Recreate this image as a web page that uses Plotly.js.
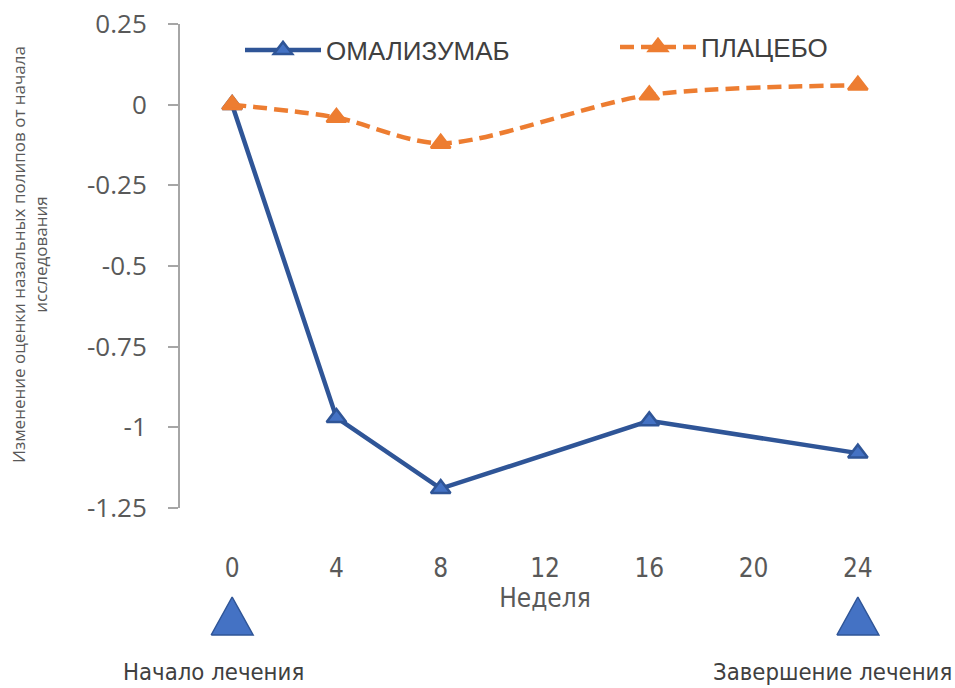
<!DOCTYPE html>
<html>
<head>
<meta charset="utf-8">
<script src="https://cdn.plot.ly/plotly-3.0.1.min.js"></script>
<style>html,body{margin:0;padding:0;background:#fff;}#chart{width:955px;height:688px;}</style>
</head>
<body>
<div id="chart"></div>
<script>
// ---- data ----
const weeks = [0, 4, 8, 16, 24];
const omalizumab = [0, -0.97, -1.19, -0.98, -1.08];
const placebo = [0, -0.04, -0.12, 0.03, 0.06];
const seriesNames = ['ОМАЛИЗУМАБ', 'ПЛАЦЕБО'];
const xTickVals = [0, 4, 8, 12, 16, 20, 24];
const yTickVals = [0.25, 0, -0.25, -0.5, -0.75, -1, -1.25];
const yTickText = ['0.25', '0', '-0.25', '-0.5', '-0.75', '-1', '-1.25'];
const milestoneWeeks = [0, 24];
const milestoneLabels = ['Начало лечения', 'Завершение лечения'];
const xTitle = 'Неделя';
const yTitle = 'Изменение оценки назальных полипов от начала<br>исследования';

// ---- layout helpers ----
const H = 688, T = 24, B = 0;
const plotH = H - T - B;
const yMainBottomPx = 508;
const yDomLow = (H - B - yMainBottomPx) / plotH;
const yMin = -1.25, yMax = 0.25;
const zeroPos = yDomLow + (1 - yDomLow) * ((0 - yMin) / (yMax - yMin));
const pxToPaperY = px => (H - B - px) / plotH;
const L = 180, R = 45, plotW = 955 - L - R;
const xMin = -2, xMax = 26;
const pxToPaperX = px => (px - L) / plotW;

// milestone triangle geometry (style): half width in px, tip/base in px of the lower strip
const lowerStripPx = H - B - yMainBottomPx;
const triHalfW = 21 * (xMax - xMin) / plotW;
const triTip = (H - B - 597) / lowerStripPx;
const triBase = (H - B - 635) / lowerStripPx;

const narrow = '"Liberation Sans Narrow", "DejaVu Sans Condensed", sans-serif';
const gray = '#595959';

const traces = [
  {
    x: weeks, y: omalizumab, name: seriesNames[0], type: 'scatter', mode: 'lines+markers',
    line: {color: '#2F5597', width: 4.5},
    marker: {symbol: 'triangle-up', size: 17, color: '#4472C4', line: {color: '#2F5597', width: 2.5}},
    xaxis: 'x', yaxis: 'y', legend: 'legend'
  },
  {
    x: weeks, y: placebo, name: seriesNames[1], type: 'scatter', mode: 'lines+markers',
    line: {color: '#ED7D31', width: 4.5, dash: '14px,7px', shape: 'spline', smoothing: 0.8},
    marker: {symbol: 'triangle-up', size: 17, color: '#ED7D31', line: {color: '#ED7D31', width: 2.5}},
    xaxis: 'x', yaxis: 'y', legend: 'legend2'
  }
];
milestoneWeeks.forEach(w => {
  traces.push({
    x: [w - triHalfW, w, w + triHalfW, w - triHalfW],
    y: [triBase, triTip, triBase, triBase],
    type: 'scatter', mode: 'lines', fill: 'toself', fillcolor: '#4472C4',
    line: {color: '#2F5597', width: 1.5},
    xaxis: 'x', yaxis: 'y3', showlegend: false, hoverinfo: 'skip'
  });
});

const legendFont = {family: '"Liberation Sans", Arial, sans-serif', size: 26, color: '#404040'};

const layout = {
  width: 955, height: 688,
  margin: {l: L, r: R, t: T, b: B},
  paper_bgcolor: '#fff', plot_bgcolor: 'rgba(0,0,0,0)',
  font: {family: '"Open Sans", sans-serif', color: gray},
  xaxis: {
    range: [xMin, xMax], anchor: 'free', position: pxToPaperY(550),
    tickvals: xTickVals, ticks: '', showline: false, showgrid: false, zeroline: false,
    tickfont: {family: narrow, size: 26, color: gray},
    title: {text: xTitle, font: {family: narrow, size: 26, color: gray}, standoff: 0}
  },
  xaxis2: {
    overlaying: 'x', matches: 'x', anchor: 'free', position: zeroPos,
    range: [xMin, xMax], tickvals: [0, 4, 8, 12, 16, 20, 24, 26], ticks: 'inside', ticklen: 9,
    tickcolor: '#A6A6A6', tickwidth: 2, showticklabels: false, showline: true,
    linecolor: '#A6A6A6', linewidth: 2, showgrid: false, zeroline: false
  },
  yaxis: {
    domain: [yDomLow, 1], range: [yMin, yMax], tickvals: yTickVals, ticktext: yTickText,
    ticks: 'outside', ticklen: 10, tickcolor: '#A6A6A6', tickwidth: 2,
    showline: true, linecolor: '#A6A6A6', linewidth: 2, showgrid: false, zeroline: false,
    tickfont: {family: '"Open Sans", sans-serif', size: 26, color: gray},
    ticklabelstandoff: 16
  },
  yaxis3: {domain: [0, yDomLow], range: [0, 1], visible: false, fixedrange: true},
  legend: {
    x: pxToPaperX(240), y: pxToPaperY(50), xanchor: 'left', yanchor: 'middle',
    orientation: 'h', bgcolor: 'rgba(0,0,0,0)', itemwidth: 76, font: legendFont
  },
  legend2: {
    x: pxToPaperX(615), y: pxToPaperY(47), xanchor: 'left', yanchor: 'middle',
    orientation: 'h', bgcolor: 'rgba(0,0,0,0)', itemwidth: 76, font: legendFont
  },
  annotations: [
    {
      text: yTitle, textangle: -90, xref: 'paper', yref: 'paper',
      x: pxToPaperX(29), y: pxToPaperY(255), xanchor: 'center', yanchor: 'middle',
      showarrow: false, font: {family: '"Open Sans", sans-serif', size: 17, color: gray}
    },
    {
      text: milestoneLabels[0], xref: 'x', yref: 'paper', x: milestoneWeeks[0], xshift: -19,
      y: pxToPaperY(672), xanchor: 'center', yanchor: 'middle', showarrow: false,
      font: {family: narrow, size: 23.7, color: '#404040'}
    },
    {
      text: milestoneLabels[1], xref: 'x', yref: 'paper', x: milestoneWeeks[1], xshift: -25,
      y: pxToPaperY(672), xanchor: 'center', yanchor: 'middle', showarrow: false,
      font: {family: narrow, size: 23.7, color: '#404040'}
    }
  ],
  showlegend: true
};

Plotly.newPlot('chart', traces, layout, {displayModeBar: false, staticPlot: true});
</script>
</body>
</html>
